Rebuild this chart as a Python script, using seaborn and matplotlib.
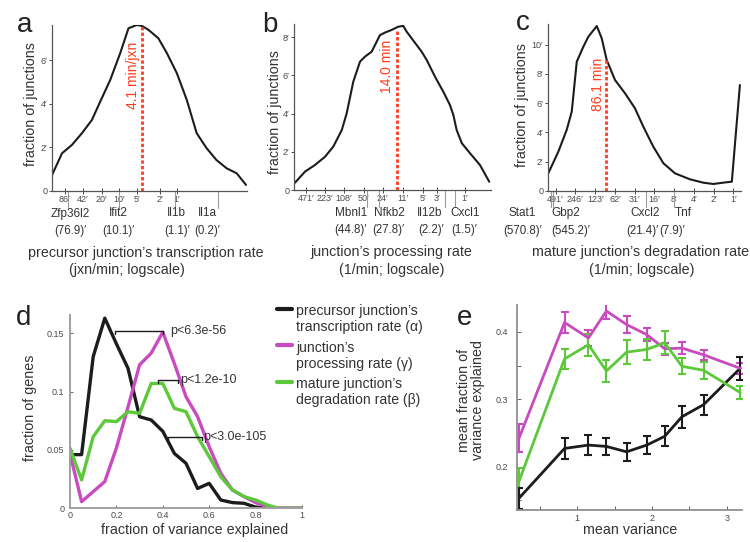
import numpy as np
import pandas as pd
import matplotlib
matplotlib.use('Agg')
import matplotlib.pyplot as plt
import seaborn as sns
from matplotlib.lines import Line2D
from matplotlib.ticker import NullLocator
from matplotlib.transforms import blended_transform_factory

# ---------------- data ----------------
# panel a : precursor junction's transcription rate
a_rate = [143, 96, 65, 43.6, 29.3, 21.1, 14.2, 9.55, 6.88, 4.93, 4.05, 3.12, 2.10,
          1.50, 1.01, 0.68, 0.46, 0.31, 0.21, 0.14, 0.094, 0.065]
a_frac = [0.73, 1.73, 2.11, 2.65, 3.26, 4.1, 5.09, 6.32, 7.46, 7.61, 7.57, 7.39, 7.0,
          6.32, 5.4, 4.17, 2.65, 1.96, 1.42, 1.04, 0.81, 0.28]
a_xticks = [86, 42, 20, 10, 5, 2, 1]
a_yticks = [0, 2, 4, 6]
a_median = 4.1
a_median_label = '4.1 min/jxn'
a_genes = ['Zfp36l2', 'Ifit2', 'Il1b', 'Il1a']
a_gene_vals = [76.9, 10.1, 1.1, 0.2]

# panel b : junction's processing rate
b_rate = [724, 491, 333, 226, 164, 118, 97.7, 75.6, 58.3, 48.1, 37.1, 26.9, 22.2, 17.1,
          13.2, 10.9, 9.57, 7.89, 6.50, 5.35, 4.41, 3.19, 2.32, 1.79, 1.57, 1.38, 1.13,
          0.82, 0.56, 0.39]
b_frac = [0.38, 0.96, 1.31, 1.74, 2.27, 3.14, 4.01, 5.67, 6.72, 6.98, 7.24, 8.11, 8.24,
          8.38, 8.55, 8.59, 8.29, 7.94, 7.59, 7.24, 6.81, 5.93, 5.15, 4.45, 3.93, 3.14,
          2.45, 1.92, 1.31, 0.43]
b_xticks = [471, 223, 108, 50, 24, 11, 5, 3, 1]
b_yticks = [0, 2, 4, 6, 8]
b_median = 14.0
b_median_label = '14.0 min'
b_genes = ['Mbnl1', 'Nfkb2', 'Il12b', 'Cxcl1']
b_gene_vals = [44.8, 27.8, 2.2, 1.5]

# panel c : mature junction's degradation rate
c_rate = [634, 447, 334, 280, 235, 187, 157, 117, 98.5, 82.8, 61.9, 43.7, 30.9, 23.1,
          16.3, 11.5, 7.67, 4.55, 2.87, 2.02, 1.43, 1.06, 0.80]
c_frac = [1.19, 2.67, 4.16, 5.41, 8.84, 9.86, 10.55, 11.28, 10.44, 8.95, 7.58, 6.67,
          5.64, 4.38, 3.01, 1.88, 1.19, 0.78, 0.55, 0.46, 0.55, 0.62, 7.24]
c_xticks = [491, 246, 123, 62, 31, 16, 8, 4, 2, 1]
c_yticks = [0, 2, 4, 6, 8, 10]
c_median = 86.1
c_median_label = '86.1 min'
c_genes = ['Stat1', 'Gbp2', 'Cxcl2', 'Tnf']
c_gene_vals = [570.8, 545.2, 21.4, 7.9]

# panel d : fraction of variance explained histograms
d_x = [0.0, 0.05, 0.1, 0.15, 0.2, 0.25, 0.3, 0.35, 0.4, 0.45, 0.5, 0.55, 0.6, 0.65,
       0.7, 0.75, 0.8, 0.85, 0.9, 0.95, 1.0]
d_alpha = [0.046, 0.046, 0.130, 0.163, 0.141, 0.120, 0.0785, 0.0757, 0.066, 0.047,
           0.0386, 0.017, 0.0214, 0.0071, 0.0049, 0.0043, 0.001, 0.0, 0.0, 0.0, 0.0]
d_gamma = [0.047, 0.0057, 0.0143, 0.0229, 0.0517, 0.0868, 0.123, 0.133, 0.151, 0.124,
           0.0957, 0.0785, 0.0528, 0.030, 0.0157, 0.010, 0.0049, 0.0014, 0.0, 0.0, 0.0]
d_beta = [0.0514, 0.0243, 0.0614, 0.0751, 0.0743, 0.0828, 0.0814, 0.107, 0.107, 0.0857,
          0.0828, 0.0614, 0.0443, 0.027, 0.0157, 0.010, 0.0071, 0.0029, 0.0, 0.0, 0.0]
d_labels = ['precursor junction\u2019s\ntranscription rate (\u03b1)',
            'junction\u2019s\nprocessing rate (\u03b3)',
            'mature junction\u2019s\ndegradation rate (\u03b2)']
d_xticks = [0, 0.2, 0.4, 0.6, 0.8, 1]
d_xticklabels = ['0', '0.2', '0.4', '0.6', '0.8', '1']
d_yticks = [0, 0.05, 0.1, 0.15]
d_yticklabels = ['0', '0.05', '0.1', '0.15']
p_texts = ['p<6.3e-56', 'p<1.2e-10', 'p<3.0e-105']
p_x0 = [0.195, 0.381, 0.424]
p_x1 = [0.402, 0.467, 0.568]
p_y = [0.152, 0.110, 0.0614]
p_tx = [0.431, 0.474, 0.575]

# panel e : mean fraction of variance explained vs mean variance
e_x = [0.22, 0.83, 1.15, 1.39, 1.66, 1.93, 2.17, 2.40, 2.69, 3.18]
e_alpha = [0.153, 0.227, 0.232, 0.230, 0.222, 0.232, 0.245, 0.274, 0.292, 0.346]
e_gamma = [0.242, 0.414, 0.391, 0.431, 0.411, 0.396, 0.375, 0.376, 0.366, 0.346]
e_beta = [0.178, 0.360, 0.381, 0.342, 0.370, 0.374, 0.384, 0.349, 0.343, 0.310]
e_alpha_err = [0.016, 0.015, 0.015, 0.012, 0.013, 0.013, 0.015, 0.016, 0.015, 0.017]
e_gamma_err = [0.021, 0.016, 0.012, 0.012, 0.013, 0.010, 0.009, 0.009, 0.007, 0.008]
e_beta_err = [0.020, 0.015, 0.016, 0.017, 0.018, 0.016, 0.017, 0.012, 0.013, 0.009]

# ---------------- style ----------------
sns.set_theme(style='ticks')
plt.rcParams['font.family'] = ['Liberation Sans', 'DejaVu Sans']
plt.rcParams['axes.unicode_minus'] = False

TXT = '#333333'
TICK = '#4a4a4a'
CURVE = '#1c1c1c'
RED = '#ff3b1f'
COLS = ['#1c1c1c', '#c84bbf', '#5cc83a']

W, H = 750, 542
fig = plt.figure(figsize=(7.5, 5.42), dpi=100)


def add_ax(l, t, r, b):
    return fig.add_axes([l / W, 1 - b / H, (r - l) / W, (b - t) / H])


def ftext(x, y, s, **kw):
    kw.setdefault('color', TXT)
    return fig.text(x / W, 1 - y / H, s, **kw)


def top_panel(ax, rate, frac, xlim, ylim, xticks, yticks, med, med_top, med_lbl,
              lbl_top, lbl_dx, genes, gvals, name_dx, val_dx):
    df = pd.DataFrame({'rate': rate, 'frac': frac})
    sns.lineplot(data=df, x='rate', y='frac', ax=ax, color=CURVE, lw=1.5,
                 sort=False, estimator=None)
    ax.set_xscale('log', base=2)
    ax.set_xlim(*xlim)
    ax.set_ylim(*ylim)
    ax.xaxis.set_minor_locator(NullLocator())
    ax.set_xticks(xticks)
    ax.set_xticklabels([f'{t}\u2032' for t in xticks])
    ax.set_yticks(yticks)
    ax.set_yticklabels([('0' if t == 0 else f'{t}\u2032') for t in yticks])
    ax.set_xlabel('')
    ax.set_ylabel('')
    for s in ['top', 'right']:
        ax.spines[s].set_visible(False)
    for s in ['left', 'bottom']:
        ax.spines[s].set_color('#555555')
        ax.spines[s].set_linewidth(0.9)
    ax.tick_params(axis='x', direction='inout', length=4, width=0.7, pad=1,
                   labelsize=6.5, colors=TICK)
    ax.tick_params(axis='y', direction='out', length=2, width=0.7, pad=1.5,
                   labelsize=6.5, colors=TICK)
    # median line
    ax.plot([med, med], [0, med_top], color=RED, lw=2, linestyle=(0, (1.2, 0.8)))
    ax.annotate(med_lbl, xy=(med, lbl_top), xytext=(lbl_dx, 0),
                textcoords='offset pixels', rotation=90, ha='right', va='top',
                color=RED, fontsize=10)
    # gene markers
    trans = blended_transform_factory(ax.transData, ax.transAxes)
    for g, v, dn, dv in zip(genes, gvals, name_dx, val_dx):
        ax.plot([v, v], [0, -0.1], transform=trans, color='#9a9a9a', lw=0.8,
                clip_on=False)
        ax.annotate(g, xy=(v, 0), xycoords=trans, xytext=(dn, -22.5),
                    textcoords='offset pixels', ha='center', va='center',
                    fontsize=8.5, color=TXT)
        ax.annotate(f'({v})\u2032', xy=(v, 0), xycoords=trans, xytext=(dv, -40),
                    textcoords='offset pixels', ha='center', va='center',
                    fontsize=8.3, color=TXT)


# ---- panels a, b, c
ax_a = add_ax(52, 25, 247, 191)
top_panel(ax_a, a_rate, a_frac, (143, 0.0625), (0, 7.61), a_xticks, a_yticks,
          a_median, 7.57, a_median_label, 6.83, -1.5, a_genes, a_gene_vals,
          [3, 0, 2, -10], [3, 0, 2, -10])
ax_b = add_ax(294, 24, 491, 190)
top_panel(ax_b, b_rate, b_frac, (751, 0.365), (0, 8.69), b_xticks, b_yticks,
          b_median, 8.3, b_median_label, 7.85, -2.5, b_genes, b_gene_vals,
          [-16, 10, -15, 11], [-16, 9, -13, 10])
ax_c = add_ax(548, 24.3, 741, 190.7)
top_panel(ax_c, c_rate, c_frac, (640, 0.77), (0, 11.4), c_xticks, c_yticks,
          c_median, 9.1, c_median_label, 9.09, -1, c_genes, c_gene_vals,
          [-29, 13, 0, 9], [-29, 18, -3, -2])

# axis titles of a, b, c
for (x, y, s) in [(31, 104, 'fraction of junctions'), (275, 112, 'fraction of junctions'),
                  (522, 105, 'fraction of junctions')]:
    ftext(x, y, s, rotation=90, ha='center', va='center', fontsize=10.3)
ftext(146, 253, 'precursor junction\u2019s transcription rate', ha='center', va='center', fontsize=10.3)
ftext(127, 270, '(jxn/min; logscale)', ha='center', va='center', fontsize=10.3)
ftext(391, 252, 'junction\u2019s processing rate', ha='center', va='center', fontsize=10.3)
ftext(392, 270, '(1/min; logscale)', ha='center', va='center', fontsize=10.3)
ftext(641, 252, 'mature junction\u2019s degradation rate', ha='center', va='center', fontsize=10.3)
ftext(642, 270, '(1/min; logscale)', ha='center', va='center', fontsize=10.3)

# ---- panel d
ax_d = add_ax(70, 315, 302, 508.3)
dfd = pd.DataFrame({
    'x': d_x * 3,
    'frac': d_alpha + d_gamma + d_beta,
    'rate': [d_labels[0]] * len(d_x) + [d_labels[1]] * len(d_x) + [d_labels[2]] * len(d_x),
})
sns.lineplot(data=dfd, x='x', y='frac', hue='rate', palette=COLS, ax=ax_d, lw=2.4,
             legend=False, estimator=None, sort=False)
ax_d.set_xlim(0, 1)
ax_d.set_ylim(0, 0.1657)
ax_d.set_xticks(d_xticks)
ax_d.set_xticklabels(d_xticklabels)
ax_d.set_yticks(d_yticks)
ax_d.set_yticklabels(d_yticklabels)
ax_d.set_xlabel('')
ax_d.set_ylabel('')
for s in ['top', 'right']:
    ax_d.spines[s].set_visible(False)
for s in ['left', 'bottom']:
    ax_d.spines[s].set_color('#a0a0a0')
    ax_d.spines[s].set_linewidth(1.4)
ax_d.tick_params(axis='both', direction='in', length=2, width=0.6, labelsize=6.5,
                 colors=TICK)
ax_d.tick_params(axis='x', pad=2)
ax_d.tick_params(axis='y', pad=4)
for t, x0, x1, y, tx in zip(p_texts, p_x0, p_x1, p_y, p_tx):
    ax_d.plot([x0, x0, x1, x1], [y - 0.003, y, y, y - 0.003], color=CURVE, lw=1.0)
    ax_d.text(tx, y, t, ha='left', va='center', fontsize=9, color=TXT)
ftext(30, 408, 'fraction of genes', rotation=90, ha='center', va='center', fontsize=10.3)
ftext(195, 530, 'fraction of variance explained', ha='center', va='center', fontsize=10.3)

handles = [Line2D([], [], color=c, lw=3) for c in COLS]
leg = fig.legend(handles, d_labels, loc='upper left',
                 bbox_to_anchor=(277 / W, 1 - 304 / H), frameon=False, fontsize=10.1,
                 handlelength=1.05, handletextpad=0.3, borderpad=0, borderaxespad=0,
                 labelspacing=0.45, labelcolor=TXT)
try:
    for col in leg._legend_handle_box.get_children():
        for hp in col.get_children():
            hp.align = 'top'
except Exception:
    pass

# ---- panel e
ax_e = add_ax(516.7, 305, 741.7, 510)
ename = ['alpha', 'gamma', 'beta']
dfe = pd.DataFrame({
    'x': e_x * 3,
    'v': e_alpha + e_gamma + e_beta,
    'rate': [ename[0]] * len(e_x) + [ename[1]] * len(e_x) + [ename[2]] * len(e_x),
})
for vals, errs, col in zip([e_gamma, e_beta, e_alpha], [e_gamma_err, e_beta_err, e_alpha_err],
                           [COLS[1], COLS[2], COLS[0]]):
    ax_e.errorbar(e_x, vals, yerr=errs, fmt='none', ecolor=col, elinewidth=1.5,
                  capsize=3, capthick=1.5)
sns.lineplot(data=dfe, x='x', y='v', hue='rate', palette=COLS, ax=ax_e, lw=2.0,
             legend=False, estimator=None, sort=False)
ax_e.set_xlim(0.19, 3.2)
ax_e.set_ylim(0.1356, 0.44)
ax_e.set_xticks([0.5, 1, 1.5, 2, 2.5, 3])
ax_e.set_xticklabels(['', '1', '', '2', '', '3'])
ax_e.set_yticks([0.15, 0.2, 0.25, 0.3, 0.35, 0.4])
ax_e.set_yticklabels(['', '0.2', '', '0.3', '', '0.4'])
ax_e.set_xlabel('')
ax_e.set_ylabel('')
for s in ['top', 'right']:
    ax_e.spines[s].set_visible(False)
for s in ['left', 'bottom']:
    ax_e.spines[s].set_color('#909090')
    ax_e.spines[s].set_linewidth(1.3)
ax_e.tick_params(axis='both', direction='in', length=3, width=0.6, labelsize=6.5,
                 colors=TICK)
ax_e.tick_params(axis='x', pad=3)
ax_e.tick_params(axis='y', pad=6)
ftext(471, 400, 'mean fraction of\nvariance explained', rotation=90, ha='center',
      va='center', fontsize=10.3, linespacing=1.05)
ftext(630, 530, 'mean variance', ha='center', va='center', fontsize=10.3)

# ---- panel letters
for (x, y, s) in [(17, 32, 'a'), (262, 32, 'b'), (516, 30, 'c'), (16, 325, 'd'), (457, 325, 'e')]:
    ftext(x, y, s, ha='left', va='baseline', fontsize=20, color='#222222')

fig.savefig('out.png', dpi=100)
